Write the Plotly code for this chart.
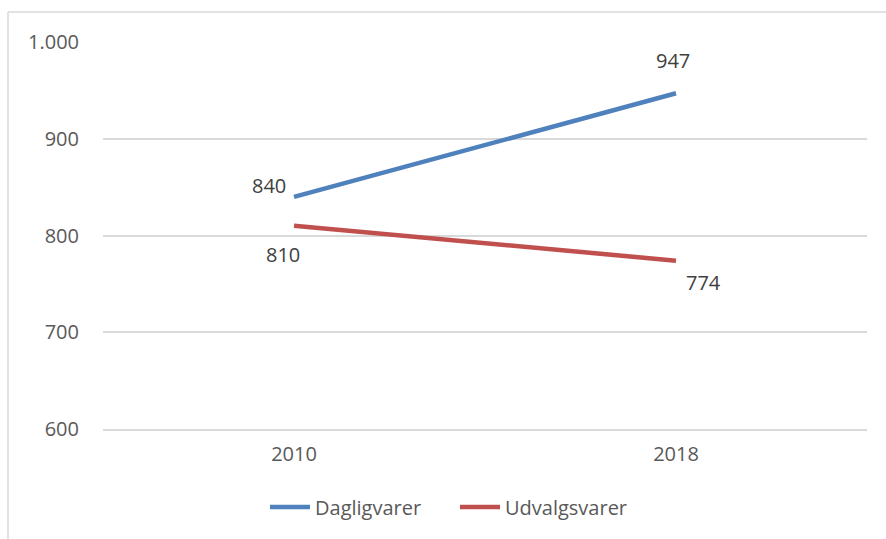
import plotly.graph_objects as go

years = ["2010", "2018"]
dagligvarer = [840, 947]
udvalgsvarer = [810, 774]
y_ticks = [600, 700, 800, 900, 1000]
y_tick_labels = ["600", "700", "800", "900", "1.000"]

W, H = 886, 539
L, R, T, B = 103, 19, 42, 110
pw, ph = W - L - R, H - T - B

blue = "#4F81BD"
red = "#C0504D"
font = "Open Sans"
fs = 20

fig = go.Figure()
fig.add_trace(go.Scatter(x=years, y=dagligvarer, mode="lines", name="Dagligvarer",
                         line=dict(color=blue, width=4.5), hoverinfo="skip"))
fig.add_trace(go.Scatter(x=years, y=udvalgsvarer, mode="lines", name="Udvalgsvarer",
                         line=dict(color=red, width=4.5), hoverinfo="skip"))

# data labels (offsets are style only)
offsets_d = [(-25, 11), (-3, 33)]
offsets_u = [(-11, -29), (27, -22)]
ann = []
for i, yr in enumerate(years):
    for vals, offs in ((dagligvarer, offsets_d), (udvalgsvarer, offsets_u)):
        ann.append(dict(x=i, y=vals[i], xref="x", yref="y", text=str(vals[i]),
                        showarrow=False, xshift=offs[i][0], yshift=offs[i][1],
                        font=dict(family=font, size=fs, color="#404040")))

# outer chart border (left and top visible)
shapes = [
    dict(type="line", xref="paper", yref="paper",
         x0=(8 - L) / pw, x1=(8 - L) / pw, y0=1 + (T - 12) / ph, y1=-(H + 5 - T - ph) / ph,
         line=dict(color="#D9D9D9", width=1.5)),
    dict(type="line", xref="paper", yref="paper",
         x0=(8 - L) / pw, x1=(W + 5 - L) / pw, y0=1 + (T - 12) / ph, y1=1 + (T - 12) / ph,
         line=dict(color="#D9D9D9", width=1.5)),
]

fig.update_layout(
    width=W, height=H,
    margin=dict(l=L, r=R, t=T, b=B),
    paper_bgcolor="white", plot_bgcolor="white",
    font=dict(family=font, size=fs, color="#595959"),
    xaxis=dict(type="category", range=[-0.5, 1.5], showgrid=False, zeroline=False,
               showline=True, linecolor="#D9D9D9", linewidth=1.5, ticks="",
               tickfont=dict(family=font, size=fs, color="#595959"), ticklabelstandoff=6),
    yaxis=dict(range=[600, 1000], tickvals=y_ticks, ticktext=y_tick_labels,
               showgrid=True, gridcolor="#D9D9D9", gridwidth=1.5, zeroline=False,
               showline=False, ticks="", ticklabelstandoff=23,
               tickfont=dict(family=font, size=fs, color="#595959")),
    legend=dict(orientation="h", x=(455 - L) / pw, xanchor="center",
                y=(T + ph - 507) / ph, yanchor="middle",
                font=dict(family=font, size=fs, color="#595959"),
                itemwidth=40, tracegroupgap=0, entrywidth=135),
    annotations=ann,
    shapes=shapes,
)

fig.write_html("out.html", post_script="document.body.style.margin='0';",
               config={"displayModeBar": False})
